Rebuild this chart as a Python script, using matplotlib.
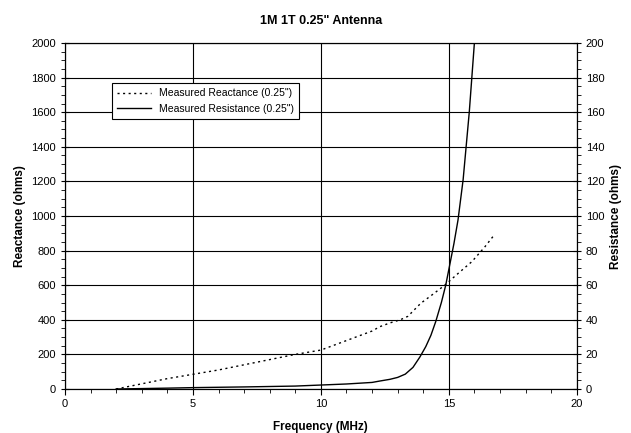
import matplotlib
matplotlib.use("Agg")
import matplotlib.pyplot as plt
from matplotlib.ticker import MultipleLocator

plt.rcParams['font.family'] = ['Liberation Sans', 'DejaVu Sans']

# Measured Reactance (left axis, ohms)
freq_x = [2.0, 3.0, 4.0, 5.0, 6.0, 7.0, 8.0, 9.0, 10.0, 11.0, 12.0, 12.3,
          12.7, 13.1, 13.4, 13.9, 14.4, 14.85, 15.3, 15.9, 16.4, 16.8]
reactance = [0, 30, 60, 85, 110, 140, 170, 200, 225, 280, 335, 360,
             382, 400, 420, 495, 550, 601, 660, 736, 820, 895]

# Measured Resistance (right axis, ohms)
freq_r = [2.0, 4.0, 5.0, 7.0, 9.0, 10.0, 11.0, 12.0, 12.3, 12.7, 13.0,
          13.3, 13.6, 13.87, 14.1, 14.3, 14.49, 14.71, 14.88, 15.04, 15.2,
          15.36, 15.56, 15.8, 15.9, 16.0]
resistance = [0, 0.5, 0.8, 1.2, 1.7, 2.3, 2.9, 3.8, 4.6, 5.6, 6.7,
              8.6, 12.5, 18.5, 24.5, 31, 39, 50, 60, 72, 84,
              97.7, 121, 160, 180, 200]

fig = plt.figure(figsize=(6.31, 4.33), dpi=100)
ax = fig.add_axes([0.103, 0.1016, 0.811, 0.7991])
ax2 = ax.twinx()

ax.plot(freq_x, reactance, color='black', linestyle=(0, (1.5, 2.5)),
        linewidth=1.0, label='Measured Reactance (0.25")')
l2, = ax2.plot(freq_r, resistance, color='black', linestyle='-',
               linewidth=1.0, label='Measured Resistance (0.25")')

ax.set_xlim(0, 20)
ax.set_ylim(0, 2000)
ax2.set_ylim(0, 200)

ax.xaxis.set_major_locator(MultipleLocator(5))
ax.xaxis.set_minor_locator(MultipleLocator(1))
ax.yaxis.set_major_locator(MultipleLocator(200))
ax.yaxis.set_minor_locator(MultipleLocator(50))
ax2.yaxis.set_major_locator(MultipleLocator(20))
ax2.yaxis.set_minor_locator(MultipleLocator(5))

ax.grid(True, which='major', color='black', linewidth=0.8)
ax.set_axisbelow(True)

for a in (ax, ax2):
    a.tick_params(which='both', labelsize=8, color='black')
    a.tick_params(which='major', direction='inout', length=6)
    a.tick_params(which='minor', direction='out', length=3)
    for s in a.spines.values():
        s.set_color('black')
        s.set_linewidth(0.8)
ax.tick_params(axis='x', which='major', direction='out', length=4)

ax.set_title('1M 1T 0.25" Antenna', fontsize=9, fontweight='bold', pad=14)
ax.set_xlabel('Frequency (MHz)', fontsize=8.5, fontweight='bold', labelpad=8)
ax.set_ylabel('Reactance (ohms)', fontsize=8.5, fontweight='bold')
ax2.set_ylabel('Resistance (ohms)', fontsize=8.5, fontweight='bold')

h1, lab1 = ax.get_legend_handles_labels()
leg = ax.legend(h1 + [l2], lab1 + [l2.get_label()], loc='upper left',
                bbox_to_anchor=(0.092, 0.884), fontsize=7.5, frameon=True,
                fancybox=False, edgecolor='black', framealpha=1,
                borderaxespad=0, handlelength=3.2, borderpad=0.5)
leg.get_frame().set_linewidth(0.8)
leg.set_zorder(10)

fig.savefig('out.png', dpi=100)
